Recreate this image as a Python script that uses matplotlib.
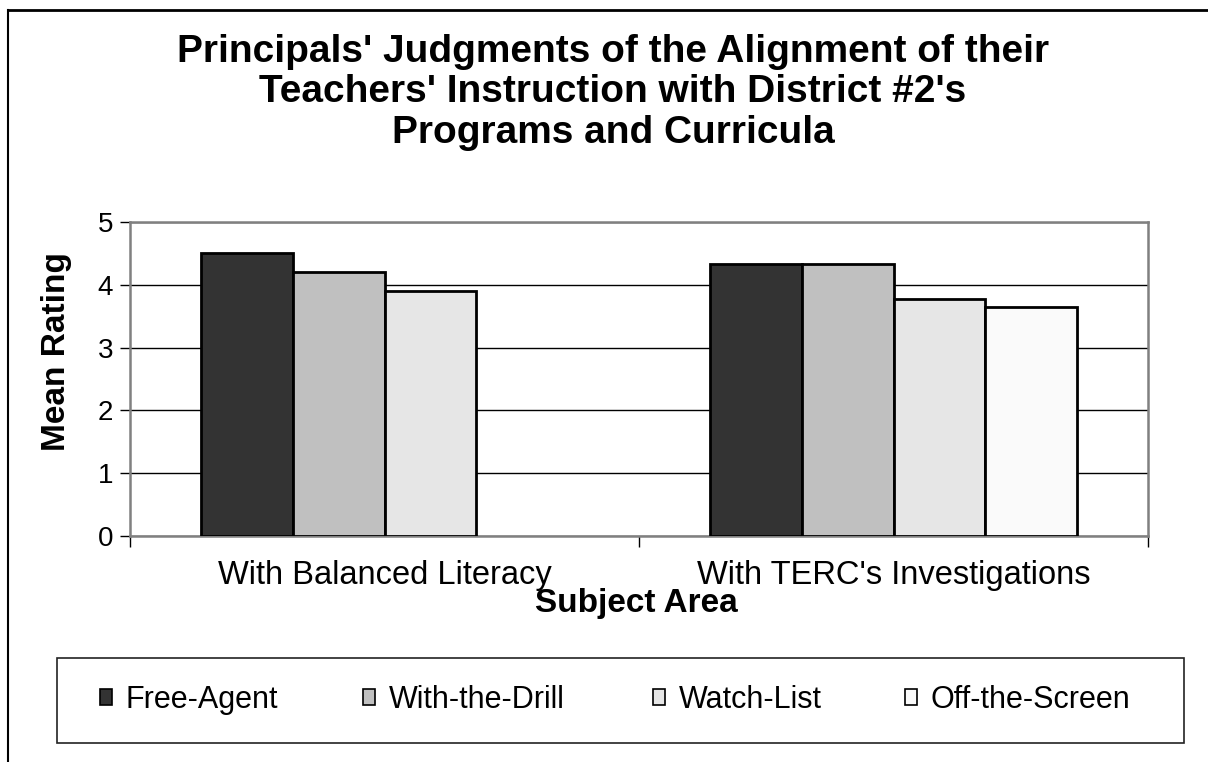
import numpy as np
import matplotlib
matplotlib.use("Agg")
import matplotlib.pyplot as plt
from matplotlib.patches import Patch, Rectangle
from matplotlib.lines import Line2D

plt.rcParams['font.family'] = ['Liberation Sans', 'DejaVu Sans']

# data
groups = ['With Balanced Literacy', "With TERC's Investigations"]
series = ['Free-Agent', 'With-the-Drill', 'Watch-List', 'Off-the-Screen']
free_agent = [4.50, 4.33]
with_the_drill = [4.20, 4.33]
watch_list = [3.90, 3.78]
off_the_screen = [np.nan, 3.64]   # no bar in the first group
colors = ['#333333', '#c0c0c0', '#e6e6e6', '#fafafa']

title_lines = ["Principals' Judgments of the Alignment of their",
               "Teachers' Instruction with District #2's",
               "Programs and Curricula"]

W, H = 1208, 762
fig = plt.figure(figsize=(W / 100, H / 100), dpi=100)

def fx(px):
    return px / W

def fy(py):
    return 1 - py / H

# outer chart frame (left and top edges visible)
fig.add_artist(Line2D([fx(8), fx(8)], [fy(10), 0], transform=fig.transFigure, color='black', lw=1.5))
fig.add_artist(Line2D([fx(8), 1], [fy(10), fy(10)], transform=fig.transFigure, color='black', lw=2))

ax = fig.add_axes([fx(130), fy(536), fx(1148) - fx(130), fy(222) - fy(536)])

values = [free_agent, with_the_drill, watch_list, off_the_screen]
x = np.arange(len(groups))
width = 0.18
for i, (name, vals) in enumerate(zip(series, values)):
    ax.bar(x + (i - 1.5) * width, vals, width, color=colors[i], edgecolor='black',
           linewidth=2.0, label=name, zorder=3)

ax.set_xlim(-0.5, 1.5)
ax.set_ylim(0, 5)
ax.set_yticks([0, 1, 2, 3, 4, 5])
ax.yaxis.grid(True, color='black', linewidth=1.0, zorder=0)
ax.set_axisbelow(True)
ax.tick_params(axis='y', labelsize=20, length=7, width=1, color='black', direction='out', pad=5)

ax.set_xticks([-0.5, 0.5, 1.5])
ax.set_xticklabels([])
ax.tick_params(axis='x', which='major', length=8, width=1, color='black', direction='out')
ax.set_xticks(x, minor=True)
ax.set_xticklabels(groups, minor=True, fontsize=23.5)
ax.tick_params(axis='x', which='minor', length=0, pad=17)

for s in ax.spines.values():
    s.set_color('#808080')
    s.set_linewidth(1.8)

# titles and axis labels
for k, line in enumerate(title_lines):
    fig.text(fx(613), fy(62 + k * 40.5), line, ha='center', va='baseline',
             fontsize=28, fontweight='bold')
fig.text(fx(57), fy(352), 'Mean Rating', rotation=90, ha='center', va='center',
         fontsize=24, fontweight='bold')
fig.text(fx(636), fy(612), 'Subject Area', ha='center', va='baseline',
         fontsize=24, fontweight='bold')

# legend box, one entry per legend so the labels share a baseline
fig.add_artist(Rectangle((fx(57), fy(743)), fx(1184) - fx(57), fy(658) - fy(743),
                         transform=fig.transFigure, fill=False, edgecolor='#222222', lw=1.2))
legend_x = [100, 363, 653, 905]
for name, c, lx in zip(series, colors, legend_x):
    leg = fig.legend([Patch(facecolor=c, edgecolor='black', linewidth=1.2)], [name],
                     loc='center left', bbox_to_anchor=(fx(lx), fy(700)),
                     frameon=False, fontsize=22, handlelength=0.4, handleheight=0.4,
                     handletextpad=0.45, borderpad=0, borderaxespad=0)

fig.savefig('out.png', dpi=100)
